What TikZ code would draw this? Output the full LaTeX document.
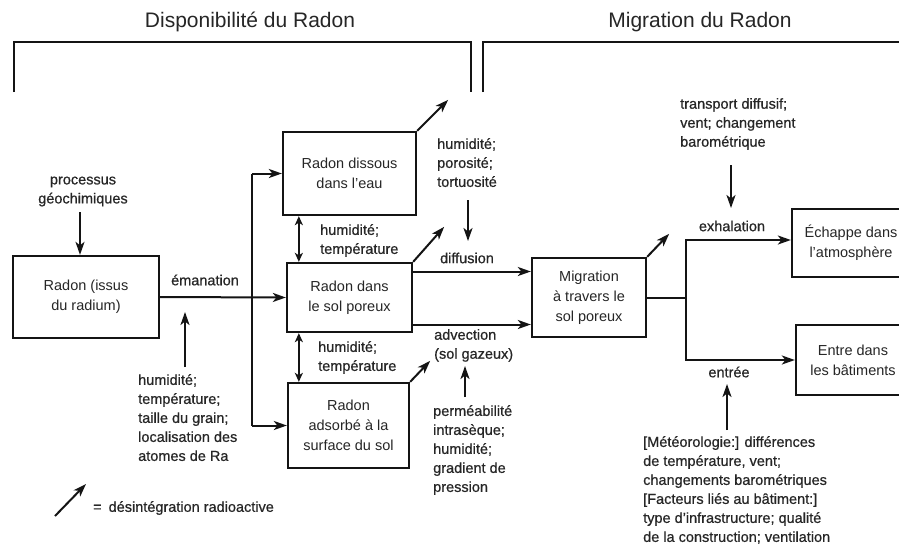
\documentclass[tikz,border=0pt]{standalone}
\usepackage{fontspec}
\setmainfont{Liberation Sans}
\newfontfamily\lblfam[FakeBold=0.6,Ligatures=TeX]{Liberation Sans}
\usetikzlibrary{arrows.meta}
\definecolor{txt}{HTML}{262626}
\definecolor{ln}{HTML}{141414}
\newcommand\lblf{\lblfam\fontsize{14.5}{19}\selectfont}
\newcommand\boxf{\fontsize{14.5}{20}\selectfont}
\newcommand\ttlf{\fontsize{21}{25}\selectfont}
\begin{document}
\begin{tikzpicture}[x=1pt,y=-1pt,
  box/.style={draw=ln, line width=2.3pt, align=center, font=\boxf, text=txt, inner sep=0pt},
  lbl/.style={align=left, font=\lblf, text=txt, inner sep=0pt},
  lblc/.style={align=center, font=\lblf, text=txt, inner sep=0pt},
  arr/.style={draw=ln, line width=2pt, -{Stealth[length=13pt,width=9pt,inset=3.5pt]}},
  darr/.style={draw=ln, line width=2pt, {Stealth[length=9pt,width=8pt,inset=2.5pt]}-{Stealth[length=9pt,width=8pt,inset=2.5pt]}},
  brk/.style={draw=ln, line width=2.3pt}]
\useasboundingbox (0,0) rectangle (899,547);
\clip (0,0) rectangle (899,547);
\fill[white] (0,0) rectangle (899,547);

% titles
\node[font=\ttlf, text=txt] (t1) at (250,22) {Disponibilité du Radon};
\node[font=\ttlf, text=txt] (t2) at (700,22) {Migration du Radon};
\draw[brk] (14,92) -- (14,42) -- (471,42) -- (471,92);
\draw[brk] (483,92) -- (483,42) -- (905,42);

% boxes
\node[box, minimum width=146pt, minimum height=82pt] (src) at (86,297) {Radon (issus\\du radium)};
\node[box, minimum width=133pt, minimum height=83pt] (dis) at (349.5,173.5) {Radon dissous\\dans l'eau};
\node[box, minimum width=125pt, minimum height=69pt] (por) at (349.5,297.5) {Radon dans\\le sol poreux};
\node[box, minimum width=121pt, minimum height=85pt] (ads) at (348.5,425.5) {Radon\\adsorbé à la\\surface du sol};
\node[box, minimum width=114pt, minimum height=79pt] (mig) at (589,297.5) {Migration\\à travers le\\sol poreux};
\node[box, minimum width=118pt, minimum height=68pt] (esc) at (851,243) {Échappe dans\\l'atmosphère};
\node[box, minimum width=114pt, minimum height=70pt] (ent) at (853,360) {Entre dans\\les bâtiments};

% labels
\node[lblc] (proc) at (83,191.5) {processus\\géochimiques};
\node[lblc] (ema) at (205,280) {émanation};
\node[lbl, anchor=north west] (hum1) at (138,374) {humidité;\\température;\\taille du grain;\\localisation des\\atomes de Ra};
\node[lbl, anchor=north west] (ht1) at (320,224) {humidité;\\température};
\node[lbl, anchor=north west] (ht2) at (318,341) {humidité;\\température};
\node[lbl, anchor=north west] (hpt) at (437,138) {humidité;\\porosité;\\tortuosité};
\node[lblc] (dif) at (467,258) {diffusion};
\node[lbl, anchor=north west] (adv) at (434,329) {advection\\(sol gazeux)};
\node[lbl, anchor=north west] (perm) at (433,405) {perméabilité\\intrasèque;\\humidité;\\gradient de\\pression};
\node[lbl, anchor=north west] (tdc) at (680,98) {transport diffusif;\\vent; changement\\barométrique};
\node[lblc] (exh) at (732,226) {exhalation};
\node[lblc] (entl) at (729,372) {entrée};
\node[lbl, anchor=north west] (met) at (643,436) {{[}Météorologie:{]} différences\\de température, vent;\\changements barométriques\\{[}Facteurs liés au bâtiment:{]}\\type d'infrastructure; qualité\\de la construction; ventilation};
\node[lbl, anchor=west] (leg) at (93,508) {=\hspace{7pt}désintégration radioactive};

% free ends of parameter arrows
\coordinate (p1) at (80,212);
\coordinate (e1a) at (185,367);
\coordinate (e1b) at (185,312);
\coordinate (d1a) at (468,200);
\coordinate (d1b) at (468,241);
\coordinate (a1a) at (465,397);
\coordinate (a1b) at (465,366);
\coordinate (x1a) at (731,165);
\coordinate (x1b) at (731,208);
\coordinate (n1a) at (727,430);
\coordinate (n1b) at (727,384);
\coordinate (l1a) at (55,516);
\coordinate (l1b) at (86,484);
\coordinate (j1) at (252,297);
\coordinate (fork) at (686,297.5);

% connectors
\draw[arr] (p1) -- (src.north -| p1);
\draw[arr] (src.east) -- (por.west);
\draw[draw=ln, line width=2pt] (j1 |- dis.west) -- (j1 |- ads.west);
\draw[arr] (j1 |- dis.west) -- (dis.west);
\draw[arr] (j1 |- ads.west) -- (ads.west);
\draw[arr] (e1a) -- (e1b);
\draw[darr] ([xshift=17pt]dis.south west) -- ([xshift=13pt]por.north west);
\draw[darr] ([xshift=13pt]por.south west) -- ([xshift=12pt]ads.north west);
\draw[arr] ([yshift=26pt]por.east) -- ([yshift=26pt]por.east -| mig.west);
\draw[arr] ([yshift=-27pt]por.east) -- ([yshift=-27pt]por.east -| mig.west);
\draw[arr] (d1a) -- (d1b);
\draw[arr] (a1a) -- (a1b);
\draw[arr] (mig.east) -- (fork) |- ([yshift=3pt]esc.west);
\draw[arr] (fork) |- (ent.west);
\draw[arr] (x1a) -- (x1b);
\draw[arr] (n1a) -- (n1b);

% radioactive decay arrows
\draw[arr] (dis.north east) -- ++(31,-31);
\draw[arr] (por.north east) -- ++(31,-35);
\draw[arr] (ads.north east) -- ++(20,-21);
\draw[arr] (mig.north east) -- ++(22,-23);
\draw[arr] (l1a) -- (l1b);
\end{tikzpicture}
\end{document}
